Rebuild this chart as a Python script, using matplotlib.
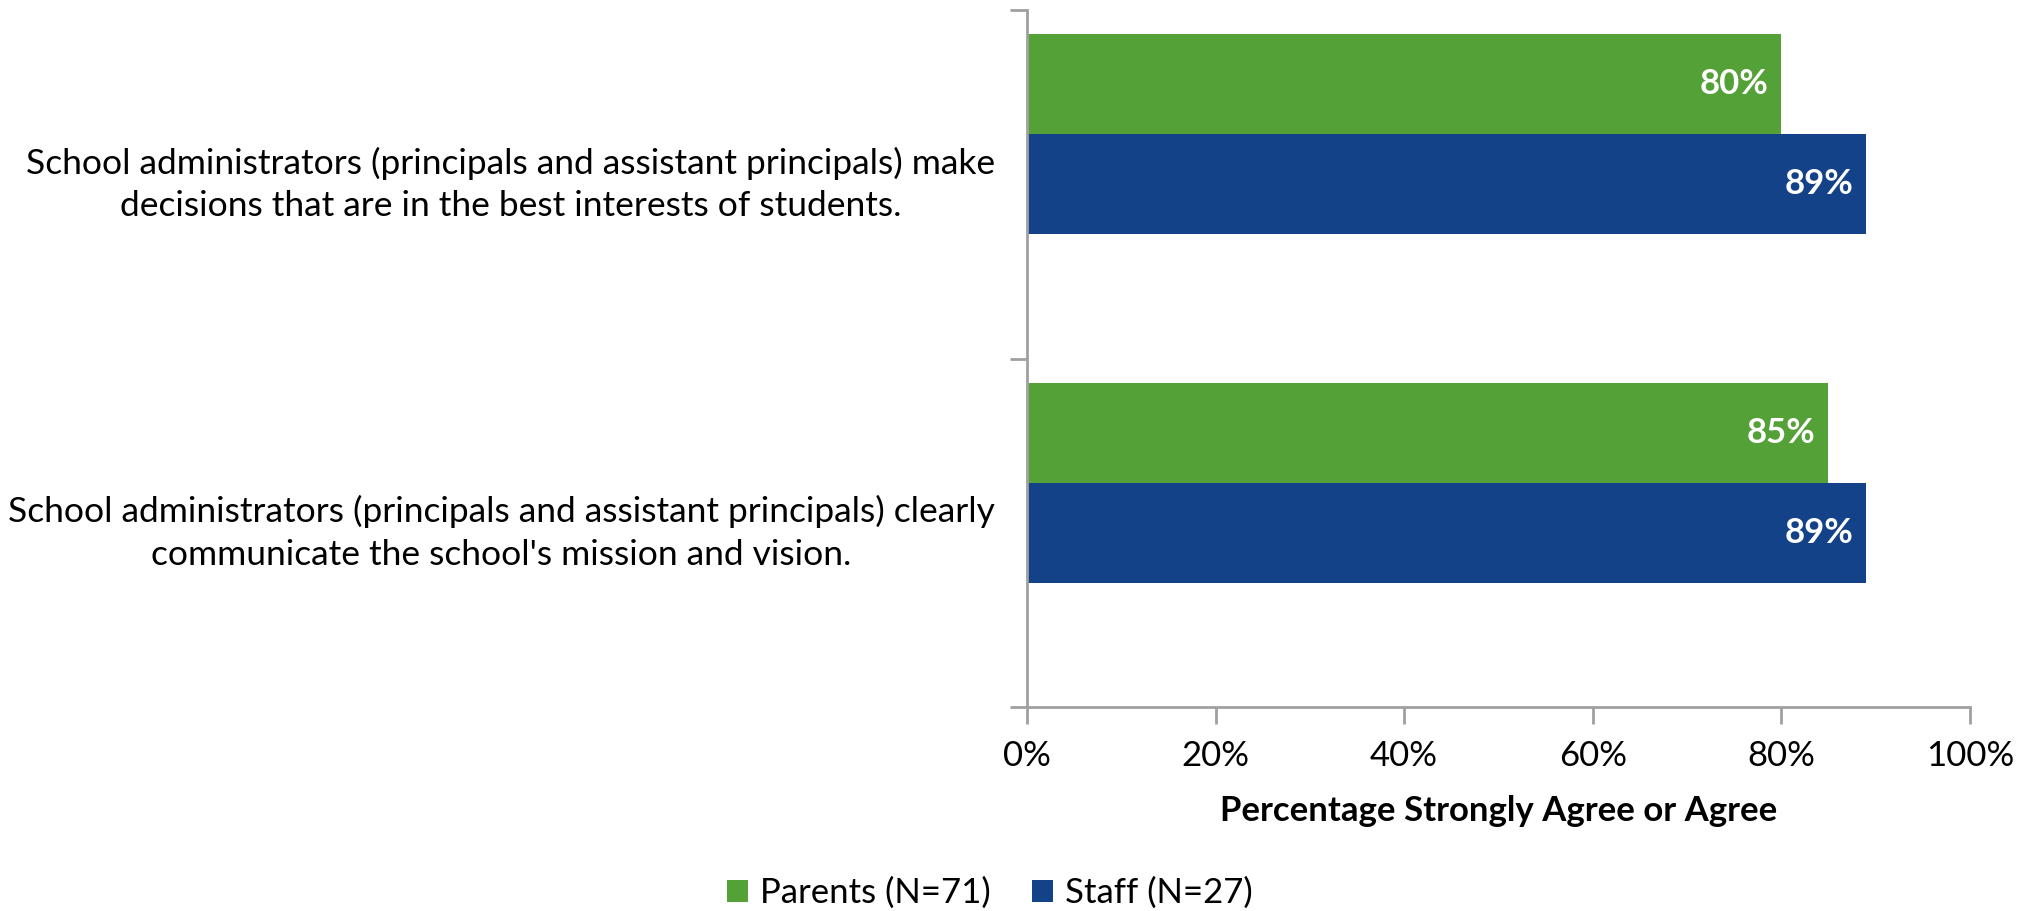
import numpy as np
import matplotlib
matplotlib.use("Agg")
from matplotlib import pyplot as plt
import matplotlib.transforms as mtransforms

plt.rcParams['font.family'] = ['Lato', 'DejaVu Sans']

# data
questions = [
    "School administrators (principals and assistant principals) make\ndecisions that are in the best interests of students.",
    "School administrators (principals and assistant principals) clearly\ncommunicate the school's mission and vision.",
]
parents = [80, 85]
staff = [89, 89]
series_names = ["Parents (N=71)", "Staff (N=27)"]
xticks = [0, 20, 40, 60, 80, 100]
xlabel = "Percentage Strongly Agree or Agree"

green = '#54A138'
blue = '#134288'
axis_grey = '#A0A0A0'
fs = 25

fig = plt.figure(figsize=(20.30, 9.11), dpi=100)
ax = fig.add_axes([0.5059, 0.2239, 0.4645, 0.7651])

y = np.arange(len(questions))
h = 0.287
b1 = ax.barh(y - h, parents, height=h, color=green, label=series_names[0])
b2 = ax.barh(y, staff, height=h, color=blue, label=series_names[1])

# value labels inside bar ends
off = mtransforms.offset_copy(ax.transData, fig=fig, x=-13, y=0, units='dots')
for bars, vals in ((b1, parents), (b2, staff)):
    for rect, v in zip(bars, vals):
        ax.text(v, rect.get_y() + rect.get_height() / 2, f"{v}%", transform=off,
                ha='right', va='center', color='white', fontsize=fs, fontweight='bold')

ax.set_xlim(0, 100)
ax.set_ylim(len(questions) - 0.5, -0.5)
ax.set_xticks(xticks)
ax.set_xticklabels([f"{t}%" for t in xticks], fontsize=fs)
ax.set_yticks(np.arange(len(questions) + 1) - 0.5)
ax.set_yticklabels([])

# category labels
trans = mtransforms.blended_transform_factory(ax.transAxes, ax.transData)
for i, q in enumerate(questions):
    ax.text(-0.034, i, q, transform=trans, ha='right', va='center',
            multialignment='center', fontsize=fs + 0.5, linespacing=1.4)

for s in ['top', 'right']:
    ax.spines[s].set_visible(False)
for s in ['left', 'bottom']:
    ax.spines[s].set_color(axis_grey)
    ax.spines[s].set_linewidth(2)
ax.tick_params(axis='both', direction='out', length=12, width=2, color=axis_grey)
ax.tick_params(axis='x', pad=12)

ax.set_xlabel(xlabel, fontsize=fs, fontweight='bold', labelpad=16)

fig.legend(handles=[b1, b2], labels=series_names, loc='center',
           bbox_to_anchor=(0.4877, 0.0198), ncol=2, frameon=False, fontsize=fs,
           handlelength=0.6, handleheight=0.6, handletextpad=0.35, columnspacing=1.2)

fig.savefig('out.png', dpi=100)
